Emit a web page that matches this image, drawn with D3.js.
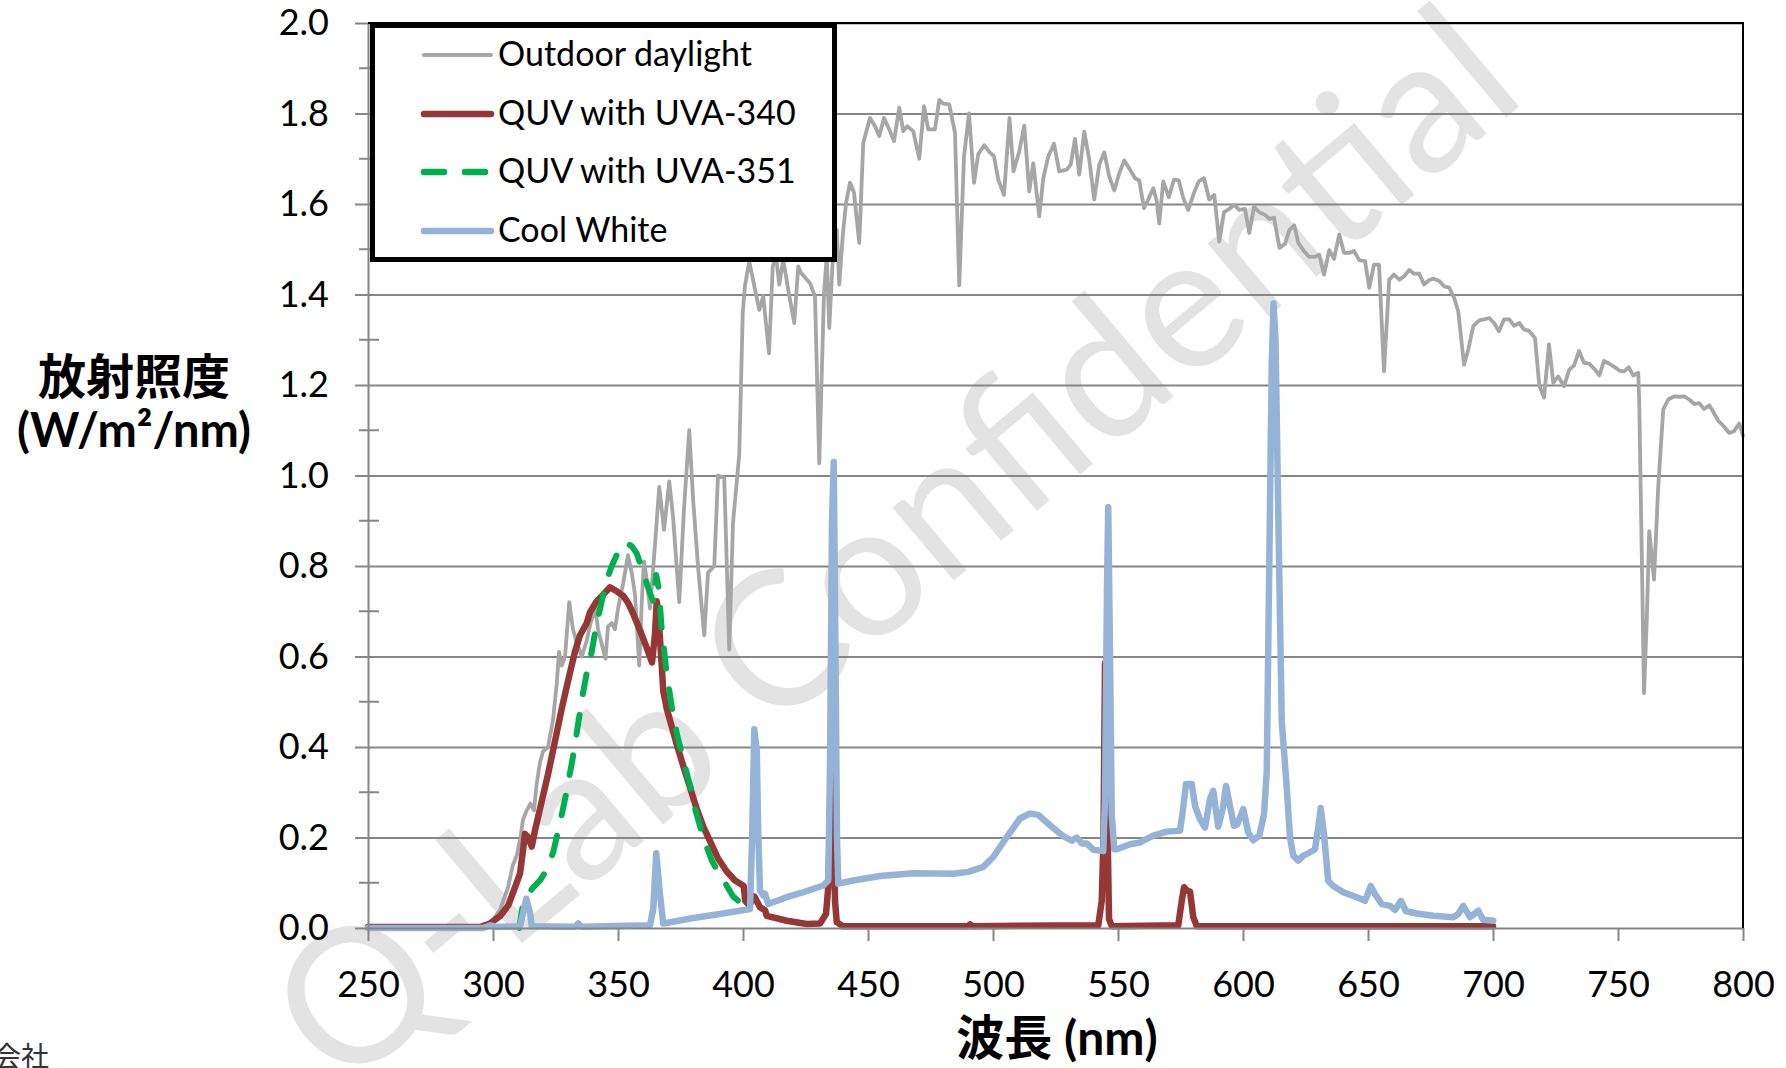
<!DOCTYPE html>
<html lang="ja">
<head>
  <meta charset="UTF-8" />
  <title>放射照度</title>
  <script src="https://d3js.org/d3.v7.min.js"></script>
  <style>
    body { margin: 0; background: #fff; }
    svg text { font-family: Lato, 'Noto Sans CJK JP', sans-serif; fill: #000; }
  </style>
</head>
<body>
  <div id="chart"></div>
  <script>
    // [wavelength nm, irradiance W/m2/nm]
    const daylight = [
      [250, 0], [296, 0], [299, 0.01], [302.8, 0.04], [306, 0.09], [308, 0.14], [309.5, 0.16], [311, 0.2],
      [312, 0.24], [313.5, 0.26], [315, 0.275], [316.4, 0.26], [317.5, 0.32], [318.8, 0.366], [320, 0.39],
      [322, 0.4], [324, 0.46], [325.5, 0.54], [326.4, 0.61], [327.5, 0.58], [328.8, 0.6], [330.5, 0.72],
      [332, 0.66], [333.5, 0.63], [335.5, 0.6], [337.5, 0.635], [339, 0.674], [341, 0.706], [342, 0.66],
      [343.5, 0.627], [345, 0.595], [346, 0.666], [347.5, 0.674], [348.8, 0.66], [350, 0.706], [352, 0.76],
      [354, 0.824], [355.5, 0.785], [356.8, 0.737], [358.5, 0.58], [359.5, 0.72], [360.4, 0.81], [361.5, 0.77],
      [362.8, 0.706], [364, 0.79], [365.5, 0.9], [366.5, 0.975], [368.4, 0.88], [370.5, 0.987], [372, 0.91],
      [374.5, 0.72], [376.4, 0.927], [378.5, 1.1], [380, 0.95], [382, 0.8], [384.5, 0.647], [386, 0.785],
      [388.5, 0.8], [390, 1.0], [392.5, 0.995], [394.5, 0.615], [396, 0.896], [398.5, 1.046], [399.9, 1.36],
      [400.8, 1.42], [402.5, 1.473], [404.1, 1.43], [406.5, 1.366], [408.1, 1.396], [410.4, 1.27], [411.9, 1.462],
      [413.2, 1.485], [414.5, 1.422], [416.1, 1.477], [418.1, 1.41], [420.5, 1.337], [422.1, 1.462], [423.2, 1.448],
      [425.5, 1.433], [426.8, 1.425], [428.8, 1.396], [430.5, 1.027], [432.4, 1.403], [433.5, 1.485], [434.5, 1.326],
      [435.9, 1.477], [437.5, 1.543], [438.5, 1.422], [439.9, 1.53], [441.2, 1.602], [442.8, 1.647], [444.4, 1.625],
      [446.5, 1.514], [448.1, 1.735], [450.8, 1.79], [452.8, 1.772], [454.5, 1.75], [456.4, 1.79], [458.5, 1.765],
      [460.4, 1.739], [462.5, 1.813], [464.1, 1.761], [465.7, 1.772], [468.1, 1.761], [470.5, 1.7], [472.4, 1.816],
      [474.1, 1.765], [476.8, 1.765], [478.5, 1.83], [480.1, 1.822], [482.5, 1.82], [484.8, 1.757], [486.5, 1.42],
      [488.4, 1.705], [490.4, 1.8], [492.4, 1.647], [494.1, 1.71], [496.5, 1.73], [498.5, 1.715], [500.4, 1.705],
      [502.1, 1.654], [504.4, 1.62], [506.6, 1.79], [508.2, 1.672], [510.5, 1.716], [512.5, 1.773], [514.5, 1.628],
      [516.1, 1.69], [518.5, 1.573], [520.1, 1.657], [522.1, 1.705], [524.4, 1.733], [526.5, 1.672], [529.5, 1.676],
      [531.1, 1.687], [532.8, 1.744], [534.5, 1.665], [536.5, 1.76], [538.5, 1.698], [540.5, 1.61], [542.5, 1.687],
      [544.5, 1.714], [546.5, 1.661], [548.5, 1.63], [550.5, 1.668], [552.5, 1.696], [554.8, 1.676], [556.8, 1.657],
      [558.5, 1.652], [560.4, 1.591], [562.1, 1.61], [564.1, 1.635], [565.5, 1.606], [566.5, 1.557], [568.1, 1.65],
      [570.3, 1.615], [572.4, 1.654], [574.3, 1.652], [576.1, 1.613], [578.1, 1.587], [580.5, 1.626], [582.3, 1.65],
      [584.4, 1.657], [586.5, 1.61], [588.5, 1.62], [590.5, 1.517], [592.4, 1.582], [594.5, 1.589], [596.4, 1.598],
      [598.5, 1.587], [600.8, 1.589], [602.5, 1.536], [604.4, 1.593], [606.5, 1.582], [608.8, 1.576], [610.5, 1.567],
      [612.4, 1.57], [614.6, 1.503], [616.8, 1.512], [618.6, 1.543], [620.5, 1.553], [622.1, 1.514], [624.1, 1.498],
      [626.5, 1.483], [628.8, 1.483], [630.5, 1.488], [632.4, 1.444], [634.5, 1.498], [636.4, 1.479], [638.5, 1.533],
      [640.4, 1.492], [642.5, 1.492], [644.4, 1.496], [646.5, 1.476], [648.8, 1.474], [650.5, 1.415], [652.4, 1.466],
      [654.4, 1.466], [656.4, 1.23], [658.5, 1.433], [660.4, 1.444], [662.5, 1.433], [664.4, 1.44], [666.5, 1.454],
      [668.4, 1.446], [670.5, 1.446], [672.4, 1.422], [674.5, 1.432], [676.4, 1.435], [678.5, 1.43], [680.4, 1.418],
      [682.5, 1.415], [684.4, 1.393], [686.1, 1.363], [688.4, 1.245], [690.1, 1.278], [692.1, 1.33], [694.5, 1.343],
      [696.4, 1.345], [698.5, 1.348], [700.4, 1.337], [702.4, 1.319], [704.4, 1.345], [706.5, 1.345], [708.4, 1.331],
      [710.5, 1.337], [712.4, 1.323], [714.5, 1.319], [716.8, 1.304], [718.5, 1.2], [720.4, 1.172], [722.4, 1.29],
      [724.1, 1.205], [726.1, 1.219], [728.4, 1.197], [730.5, 1.234], [732.4, 1.243], [734.4, 1.275], [736.4, 1.249],
      [738.5, 1.247], [740.8, 1.234], [742.5, 1.221], [744.4, 1.253], [746.5, 1.247], [748.5, 1.24], [750.5, 1.232],
      [752.4, 1.23], [754.3, 1.239], [756.1, 1.221], [758.1, 1.227], [758.5, 1.16], [759.5, 0.829], [760.4, 0.519],
      [761.5, 0.68], [762.5, 0.877], [764.4, 0.77], [766.1, 0.976], [768.1, 1.146], [770.1, 1.168], [772.4, 1.175],
      [774.5, 1.174], [776.5, 1.175], [778.5, 1.168], [780.5, 1.158], [782.5, 1.16], [784.4, 1.147], [786.5, 1.155],
      [788.4, 1.138], [790.1, 1.121], [792.1, 1.11], [794.5, 1.094], [796.4, 1.098], [798.5, 1.115], [800, 1.088]
    ];

    const uva340 = [
      [250, 0.002], [294.8, 0.002], [298.8, 0.01], [302.8, 0.026], [306.1, 0.05], [308.8, 0.09], [310.8, 0.12],
      [312.1, 0.176], [312.8, 0.208], [314.1, 0.2], [315.5, 0.18], [316.8, 0.216], [319.5, 0.28], [322.1, 0.342],
      [324.8, 0.413], [327.5, 0.485], [330.1, 0.548], [332.8, 0.611], [334.8, 0.647], [337.5, 0.674], [338.8, 0.698],
      [341.5, 0.722], [344.1, 0.737], [346.8, 0.753], [349.5, 0.744], [352.1, 0.734], [354.1, 0.718], [356.1, 0.694],
      [358.8, 0.658], [361.5, 0.619], [363.6, 0.587], [364.8, 0.65], [365.5, 0.722], [366.1, 0.698], [367.5, 0.579],
      [368.1, 0.524], [369.5, 0.485], [371.5, 0.445], [373.5, 0.406], [376.1, 0.358], [378.8, 0.311], [381.5, 0.263],
      [384.1, 0.224], [386.8, 0.192], [390.1, 0.153], [393.5, 0.125], [396.8, 0.105], [400.3, 0.093], [400.9, 0.06],
      [402.5, 0.05], [404.5, 0.07], [406.8, 0.046], [408.8, 0.039], [409.5, 0.027], [417.5, 0.016], [425.5, 0.009],
      [430.8, 0.01], [433.2, 0.031], [434.1, 0.09], [435.1, 0.283], [435.9, 0.55], [436.8, 0.06], [437.5, 0.013],
      [440, 0.004], [490, 0.004], [490.8, 0.008], [491.5, 0.004], [542.1, 0.006], [543.5, 0.06], [544.2, 0.2],
      [544.8, 0.585], [545.6, 0.3], [546.4, 0.02], [547.5, 0.004], [574.1, 0.006], [575.5, 0.06], [576.4, 0.09],
      [577.7, 0.082], [578.8, 0.081], [580.1, 0.024], [581.5, 0.004], [700, 0.004]
    ];

    const uva351 = [
      [310.5, 0], [312.1, 0.058], [313.5, 0.07], [316.1, 0.09], [318.8, 0.105], [321.5, 0.129], [324.1, 0.168],
      [326.8, 0.232], [329.5, 0.303], [332.1, 0.382], [334.1, 0.453], [335.9, 0.516], [337.5, 0.564], [339.5, 0.611],
      [341.5, 0.674], [343.5, 0.722], [345.5, 0.769], [347.5, 0.8], [350.1, 0.832], [352.8, 0.852], [355.5, 0.844],
      [357.5, 0.828], [360.1, 0.785], [362.8, 0.74], [364.2, 0.72], [365.3, 0.78], [366.3, 0.75], [367.5, 0.66],
      [369.5, 0.56], [371.5, 0.49], [373.5, 0.43], [376.4, 0.366], [379, 0.311], [381, 0.26], [384.1, 0.2],
      [387.5, 0.149], [390.5, 0.12], [392.8, 0.1], [396, 0.07], [399.5, 0.054]
    ];

    const coolWhite = [
      [250, 0], [296, 0], [299, 0.006], [302, 0.002], [310.8, 0.004], [312.1, 0.034], [313.3, 0.065], [314.8, 0.034],
      [315.5, 0.004], [333, 0.003], [334.1, 0.01], [335.2, 0.003], [362.8, 0.006], [364.1, 0.042], [365.3, 0.165],
      [366.8, 0.074], [368.1, 0.01], [380.1, 0.022], [390.8, 0.031], [402.8, 0.042], [403.7, 0.209], [404.5, 0.439],
      [405.5, 0.394], [406.1, 0.209], [406.8, 0.083], [408.1, 0.072], [408.8, 0.076], [410.1, 0.053], [417.5, 0.068],
      [424.1, 0.079], [432.1, 0.094], [434.1, 0.105], [434.8, 0.357], [435.6, 0.9], [436.3, 1.03], [437, 0.6],
      [437.6, 0.2], [438.1, 0.098], [444.1, 0.105], [454.8, 0.115], [468.1, 0.121], [484.1, 0.12], [490.1, 0.124],
      [492.8, 0.129], [496.1, 0.135], [500.1, 0.157], [505.5, 0.201], [510.8, 0.242], [514.8, 0.253], [518.1, 0.25],
      [522.8, 0.227], [528.1, 0.203], [531.5, 0.193], [533.5, 0.2], [535.5, 0.187], [537.5, 0.187], [540.1, 0.173],
      [544.1, 0.17], [544.8, 0.283], [545.6, 0.75], [546.1, 0.93], [546.8, 0.6], [547.5, 0.25], [548.5, 0.174],
      [549.5, 0.174], [554.8, 0.185], [558.8, 0.189], [564.1, 0.204], [569.5, 0.213], [574.8, 0.215], [576.1, 0.266],
      [577.2, 0.318], [579.5, 0.318], [580.8, 0.27], [582.8, 0.24], [584.8, 0.222], [586.8, 0.285], [588.1, 0.303],
      [590.1, 0.224], [591.9, 0.263], [593.2, 0.314], [594.8, 0.27], [596.4, 0.226], [597.7, 0.229], [600.1, 0.263],
      [602.1, 0.211], [604.1, 0.194], [606.5, 0.204], [608.4, 0.251], [609.5, 0.347], [610.5, 0.8], [611.5, 1.25],
      [612.2, 1.38], [613, 1.3], [614.3, 0.85], [615.5, 0.457], [617.5, 0.31], [618.8, 0.2], [620.1, 0.16],
      [622.1, 0.149], [624.1, 0.16], [626.1, 0.165], [628.8, 0.174], [630.1, 0.222], [631.1, 0.265], [632.4, 0.207],
      [634.1, 0.104], [636.1, 0.093], [640.1, 0.079], [645.5, 0.068], [648.8, 0.06], [651.1, 0.093], [652.8, 0.075],
      [655.5, 0.053], [658.8, 0.049], [660.8, 0.04], [663.2, 0.06], [665.2, 0.037], [669.5, 0.032], [676.1, 0.027],
      [684.1, 0.024], [686.1, 0.031], [688.1, 0.049], [690.8, 0.024], [694.1, 0.038], [696.1, 0.018], [700.1, 0.016]
    ];

    const seriesNames = ["Outdoor daylight", "QUV with UVA-340", "QUV with UVA-351", "Cool White"];
    const seriesColors = ["#a6a6a6", "#953735", "#00b050", "#95b3d7"];
    const xTicks = [250, 300, 350, 400, 450, 500, 550, 600, 650, 700, 750, 800];
    const yTicks = [0, 0.2, 0.4, 0.6, 0.8, 1.0, 1.2, 1.4, 1.6, 1.8, 2.0];
    const yMinorTicks = [0.1, 0.3, 0.5, 0.7, 0.9, 1.1, 1.3, 1.5, 1.7, 1.9];

    const width = 1786, height = 1068;
    const plot = { left: 368, right: 1743, top: 23, bottom: 928 };

    const svg = d3.select("#chart").append("svg")
      .attr("width", width)
      .attr("height", height);

    const x = d3.scaleLinear().domain([250, 800]).range([plot.left, plot.right]);
    const y = d3.scaleLinear().domain([0, 2]).range([plot.bottom, plot.top]);

    // watermark behind everything
    svg.append("text")
      .attr("transform", "translate(342,1094) rotate(-40)")
      .attr("textLength", 1550)
      .attr("lengthAdjust", "spacingAndGlyphs")
      .style("font-size", "188px")
      .style("fill", "#e3e3e3")
      .text("Q-Lab Confidential");

    // gridlines
    const grid = svg.append("g")
      .attr("transform", `translate(${plot.left},0)`)
      .call(d3.axisLeft(y).tickValues(yTicks.slice(1)).tickSize(-(plot.right - plot.left)).tickFormat(""));
    grid.select(".domain").remove();
    grid.selectAll("line").attr("stroke", "#868686").attr("stroke-width", 2);

    // series
    const line = d3.line().x(d => x(d[0])).y(d => y(d[1]));
    const seriesData = [daylight, uva340, uva351, coolWhite];
    const widths = [3.8, 6.5, 6, 6.5];
    seriesData.forEach((data, i) => {
      const p = svg.append("path")
        .datum(data)
        .attr("d", line)
        .attr("fill", "none")
        .attr("stroke", seriesColors[i])
        .attr("stroke-width", widths[i])
        .attr("stroke-linejoin", "round")
        .attr("stroke-linecap", "round");
      if (i === 2) p.attr("stroke-dasharray", "20,21");
    });

    // y axis
    const yAxis = svg.append("g")
      .attr("transform", `translate(${plot.left},0)`)
      .call(d3.axisLeft(y).tickValues(yTicks).tickSize(13).tickSizeOuter(0).tickPadding(26).tickFormat(d3.format(".1f")));
    yAxis.select(".domain").attr("stroke", "#868686").attr("stroke-width", 2);
    yAxis.selectAll("line").attr("stroke", "#868686").attr("stroke-width", 2);
    yAxis.selectAll("text").style("font-size", "36px").attr("fill", "#000");

    svg.append("g").selectAll("line")
      .data(yMinorTicks)
      .join("line")
      .attr("x1", plot.left - 9).attr("x2", plot.left + 11)
      .attr("y1", d => y(d)).attr("y2", d => y(d))
      .attr("stroke", "#868686").attr("stroke-width", 2);

    // x axis
    const xAxis = svg.append("g")
      .attr("transform", `translate(0,${plot.bottom})`)
      .call(d3.axisBottom(x).tickValues(xTicks).tickSize(13).tickSizeOuter(0).tickPadding(30));
    xAxis.select(".domain").attr("stroke", "#868686").attr("stroke-width", 2);
    xAxis.selectAll("line").attr("stroke", "#868686").attr("stroke-width", 2);
    xAxis.selectAll("text").style("font-size", "36px").attr("fill", "#000");

    // plot border top / right
    svg.append("path")
      .attr("d", `M${plot.left},${plot.top}H${plot.right}V${plot.bottom}`)
      .attr("fill", "none")
      .attr("stroke", "#000")
      .attr("stroke-width", 2);

    // legend
    const legend = svg.append("g");
    legend.append("rect")
      .attr("x", 372.5).attr("y", 25.5)
      .attr("width", 462).attr("height", 234)
      .attr("fill", "#fff")
      .attr("stroke", "#000")
      .attr("stroke-width", 5);
    const rowY = [55, 114, 172, 231];
    seriesNames.forEach((name, i) => {
      const l = legend.append("line")
        .attr("x1", 424).attr("x2", 491)
        .attr("y1", rowY[i]).attr("y2", rowY[i])
        .attr("stroke", seriesColors[i])
        .attr("stroke-width", i === 0 ? 4 : 6.5)
        .attr("stroke-linecap", "round");
      if (i === 2) l.attr("stroke-dasharray", "20,21");
      legend.append("text")
        .attr("x", 498).attr("y", rowY[i] + 11)
        .style("font-size", "34px")
        .text(name);
    });

    // axis titles
    svg.append("text")
      .attr("x", 134).attr("y", 394)
      .attr("text-anchor", "middle")
      .style("font-size", "48px").style("font-weight", "bold")
      .text("放射照度");
    svg.append("text")
      .attr("x", 134).attr("y", 447)
      .attr("text-anchor", "middle")
      .style("font-size", "47px").style("font-weight", "bold")
      .text("(W/m²/nm)");
    svg.append("text")
      .attr("x", 1057).attr("y", 1055)
      .attr("text-anchor", "middle")
      .style("font-size", "48px").style("font-weight", "bold")
      .text("波長 (nm)");

    // cut-off footer text at the bottom-left corner
    svg.append("text")
      .attr("x", 49).attr("y", 1067)
      .attr("text-anchor", "end")
      .style("font-size", "28px")
      .style("fill", "#333")
      .text("株式会社");
  </script>
</body>
</html>
